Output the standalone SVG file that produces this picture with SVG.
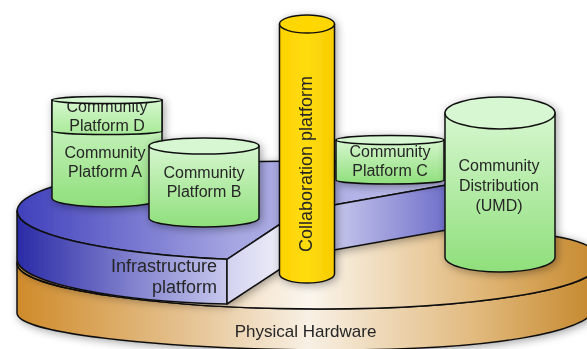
<svg xmlns="http://www.w3.org/2000/svg" width="587" height="349" viewBox="0 0 587 349">
<defs>
<style>
.ol{stroke:#111;stroke-width:1.5;stroke-linejoin:round}
.t{font-family:"Liberation Sans",Arial,Helvetica,sans-serif;fill:#262626}
.c16{font-size:16px;text-anchor:middle}
.grn{fill:url(#gBody)}
.gtop{fill:#d6f7d2}
</style>
<filter id="sh" x="-20%" y="-20%" width="140%" height="140%">
<feDropShadow dx="2" dy="2" stdDeviation="4" flood-color="#000" flood-opacity="0.35"/>
</filter>
<linearGradient id="hwSide" gradientUnits="userSpaceOnUse" x1="17" y1="0" x2="600" y2="0">
<stop offset="0" stop-color="#cf8b2a"/>
<stop offset="0.3" stop-color="#e6c494"/>
<stop offset="0.5" stop-color="#f8f0e4"/>
<stop offset="0.78" stop-color="#e2bb80"/>
<stop offset="1" stop-color="#c4862a"/>
</linearGradient>
<linearGradient id="hwTop" gradientUnits="userSpaceOnUse" x1="17" y1="0" x2="600" y2="0">
<stop offset="0" stop-color="#dca252"/>
<stop offset="0.5" stop-color="#fbf6ee"/>
<stop offset="0.8" stop-color="#e0b676"/>
<stop offset="1" stop-color="#c6882c"/>
</linearGradient>
<linearGradient id="blSide" gradientUnits="userSpaceOnUse" x1="17" y1="0" x2="227" y2="0">
<stop offset="0" stop-color="#2a2aa6"/>
<stop offset="1" stop-color="#c8c8ee"/>
</linearGradient>
<linearGradient id="blTop" gradientUnits="userSpaceOnUse" x1="17" y1="0" x2="500" y2="0">
<stop offset="0" stop-color="#4040bc"/>
<stop offset="0.45" stop-color="#a6a6e2"/>
<stop offset="1" stop-color="#c2c2ec"/>
</linearGradient>
<linearGradient id="blCutL" gradientUnits="userSpaceOnUse" x1="227" y1="0" x2="300" y2="0">
<stop offset="0" stop-color="#d2d2f0"/>
<stop offset="1" stop-color="#f6f6fc"/>
</linearGradient>
<linearGradient id="blCutR" gradientUnits="userSpaceOnUse" x1="335" y1="0" x2="500" y2="0">
<stop offset="0" stop-color="#c6c6ec"/>
<stop offset="1" stop-color="#4646ba"/>
</linearGradient>
<linearGradient id="gBody" x1="0" y1="0" x2="0" y2="1">
<stop offset="0" stop-color="#d6f7cf"/>
<stop offset="1" stop-color="#8fdf7b"/>
</linearGradient>
<linearGradient id="gD" x1="0" y1="0" x2="0" y2="1">
<stop offset="0" stop-color="#d6f7cf"/>
<stop offset="1" stop-color="#a8ea98"/>
</linearGradient>
<linearGradient id="yel" x1="0" y1="0" x2="1" y2="0">
<stop offset="0" stop-color="#ffd200"/>
<stop offset="0.5" stop-color="#ffdc10"/>
<stop offset="1" stop-color="#f8cc00"/>
</linearGradient>
</defs>
<rect width="587" height="349" fill="#fff"/>

<g id="physical-hardware" filter="url(#sh)">
<path class="ol" fill="url(#hwSide)" d="M17,263 L17,313 C17,335 180,350 335,350 C480,350 600,335 600,300 L600,262 C600,290 470,309 320,309 C170,309 17,290 17,263 Z"/>
<path class="ol" fill="url(#hwTop)" d="M17,263 C17,290 170,309 320,309 C470,309 600,290 600,262 C600,250 585,241 553,236 C420,205 17,215 17,263 Z"/>
<text class="t" x="305.5" y="337" font-size="17" text-anchor="middle">Physical Hardware</text>
</g>

<g id="infrastructure-platform" filter="url(#sh)">
<path class="ol" fill="url(#blTop)" d="M300,211 L500,175.6 A283,50 0 1 0 227,259.3 Z"/>
<path class="ol" fill="url(#blSide)" d="M17,211 A283,50 0 0 0 227,259.3 L227,304 C120,302 17,283 17,259 Z"/>
<path class="ol" fill="url(#blCutL)" d="M227,259.3 L300,211 L300,256 L227,304 Z"/>
<path class="ol" fill="url(#blCutR)" d="M300,211 L500,175.6 L500,220.6 L300,256 Z"/>
<text class="t" x="217" y="272" font-size="18" text-anchor="end">Infrastructure</text>
<text class="t" x="217" y="293" font-size="18" text-anchor="end">platform</text>
</g>

<g id="community-platform-a-d" filter="url(#sh)">
<path class="ol grn" d="M52,100 L52,198 A55,9 0 0 0 162,198 L162,100 Z"/>
<path class="ol" fill="url(#gD)" d="M52,100 L52,131 A55,3.5 0 0 0 162,131 L162,100 Z"/>
<text class="t c16" x="107" y="112">Community</text>
<text class="t c16" x="107" y="131">Platform D</text>
<text class="t c16" x="105" y="158">Community</text>
<text class="t c16" x="105" y="177">Platform A</text>
<ellipse class="ol gtop" cx="107" cy="100" rx="55" ry="3.5"/>
</g>

<g id="community-platform-b" filter="url(#sh)">
<path class="ol grn" d="M149,146 L149,218 A55,9 0 0 0 259,218 L259,146 Z"/>
<ellipse class="ol gtop" cx="204" cy="146" rx="55" ry="8"/>
<text class="t c16" x="204" y="178">Community</text>
<text class="t c16" x="204" y="197">Platform B</text>
</g>

<g id="collaboration-platform" filter="url(#sh)">
<path class="ol" fill="url(#yel)" d="M279.5,24 L279.5,274 A27.5,9 0 0 0 334.5,274 L334.5,24 Z"/>
<ellipse class="ol" fill="#ffd700" cx="307" cy="24" rx="27.5" ry="9"/>
<text class="t" x="0" y="0" font-size="18" text-anchor="middle" transform="translate(312,164) rotate(-90)">Collaboration platform</text>
</g>

<g id="community-platform-c" filter="url(#sh)">
<path class="ol grn" d="M336,140 L336,180 A54,4 0 0 0 444,180 L444,140 Z"/>
<text class="t c16" x="390" y="156.5">Community</text>
<text class="t c16" x="390" y="176">Platform C</text>
<ellipse class="ol gtop" cx="390" cy="140" rx="54" ry="4.5"/>
</g>

<g id="community-distribution-umd" filter="url(#sh)">
<path class="ol grn" d="M445,113 L445,257 A55,15 0 0 0 555,257 L555,113 Z"/>
<ellipse class="ol gtop" cx="500" cy="113" rx="55" ry="16"/>
<text class="t c16" x="499" y="171">Community</text>
<text class="t c16" x="499" y="191">Distribution</text>
<text class="t c16" x="499" y="211">(UMD)</text>
</g>

<g id="connectors"/>
</svg>
